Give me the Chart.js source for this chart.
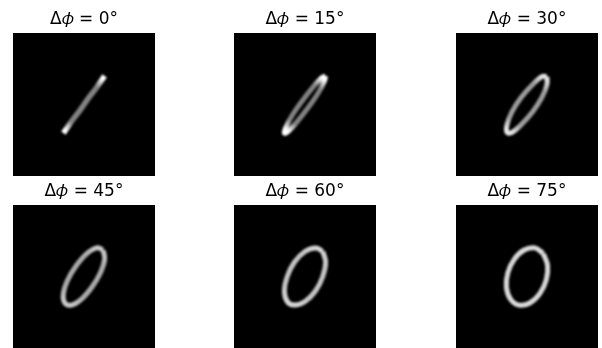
<!DOCTYPE html>
<html>
<head>
<meta charset="utf-8">
<script src="https://cdn.jsdelivr.net/npm/chart.js@4"></script>
<style>
  html, body { margin: 0; padding: 0; background: #fff; overflow: hidden; }
  .panel { position: absolute; width: 151px; height: 176px; }
</style>
</head>
<body>
<script>
const phases = [0, 15, 30, 45, 60, 75];

// curve, centre of the image is 0,0 and its edges are +-1
const x0 = [0.29, 0.22, 0.15, 0.07, 0, -0.07, -0.15, -0.22, -0.29];
const y0 = [0.40, 0.30, 0.20, 0.10, 0, -0.10, -0.20, -0.30, -0.40];

const x15 = [0.29, 0.23, 0.11, -0.04, -0.18, -0.27, -0.29, -0.23, -0.11, 0.04, 0.18, 0.27, 0.29];
const y15 = [0.40, 0.37, 0.24, 0.05, -0.15, -0.32, -0.40, -0.37, -0.24, -0.05, 0.15, 0.32, 0.40];

const x30 = [0.28, 0.21, 0.08, -0.08, -0.21, -0.28, -0.28, -0.21, -0.08, 0.08, 0.21, 0.28, 0.28];
const y30 = [0.39, 0.39, 0.28, 0.10, -0.10, -0.28, -0.39, -0.39, -0.28, -0.10, 0.10, 0.28, 0.39];

const x45 = [0.27, 0.18, 0.04, -0.11, -0.23, -0.29, -0.27, -0.18, -0.04, 0.11, 0.23, 0.29, 0.27];
const y45 = [0.37, 0.40, 0.32, 0.15, -0.05, -0.24, -0.37, -0.40, -0.32, -0.15, 0.05, 0.24, 0.37];

const x60 = [0.25, 0.15, 0, -0.15, -0.25, -0.29, -0.25, -0.15, 0, 0.15, 0.25, 0.29, 0.25];
const y60 = [0.35, 0.40, 0.35, 0.20, 0, -0.20, -0.35, -0.40, -0.35, -0.20, 0, 0.20, 0.35];

const x75 = [0.23, 0.11, -0.04, -0.18, -0.27, -0.29, -0.23, -0.11, 0.04, 0.18, 0.27, 0.29, 0.23];
const y75 = [0.32, 0.40, 0.37, 0.24, 0.05, -0.15, -0.32, -0.40, -0.37, -0.24, -0.05, 0.15, 0.32];

const curvesX = [x0, x15, x30, x45, x60, x75];
const curvesY = [y0, y15, y30, y45, y60, y75];

// brightness of the curve: along its middle, and at the far ends
const midGray = [130, 130, 155, 170, 195, 215];
const tipGray = [255, 255, 230, 200, 215, 220];

const panelLeft = [9, 230, 452];
const panelTop = [0, 172];

const imageLook = {
  id: "imageLook",
  beforeDraw(chart) {
    const a = chart.chartArea;
    chart.ctx.fillStyle = "#000";
    chart.ctx.fillRect(a.left, a.top, a.right - a.left, a.bottom - a.top);
  },
  beforeDatasetsDraw(chart) {
    chart.ctx.save();
    chart.ctx.filter = "blur(1.1px)";
  },
  afterDatasetsDraw(chart) {
    chart.ctx.restore();
  },
};

function curveColor(chart, i) {
  const a = chart.chartArea;
  if (!a) return "#999";
  const cx = (a.left + a.right) / 2;
  const cy = (a.top + a.bottom) / 2;
  const g = chart.ctx.createRadialGradient(cx, cy, 0, cx, cy, 36);
  const mid = `rgb(${midGray[i]},${midGray[i]},${midGray[i]})`;
  const tip = `rgb(${tipGray[i]},${tipGray[i]},${tipGray[i]})`;
  g.addColorStop(0, mid);
  g.addColorStop(0.6, mid);
  g.addColorStop(0.88, tip);
  g.addColorStop(1, tip);
  return g;
}

phases.forEach((phase, i) => {
  const canvas = document.createElement("canvas");
  canvas.width = 150;
  canvas.height = 176;
  const wrap = document.createElement("div");
  wrap.className = "panel";
  wrap.style.left = panelLeft[i % 3] + "px";
  wrap.style.top = panelTop[Math.floor(i / 3)] + "px";
  wrap.appendChild(canvas);
  document.body.appendChild(wrap);

  new Chart(canvas, {
    type: "scatter",
    data: {
      datasets: [
        {
          data: curvesX[i].map((x, k) => ({ x: x, y: curvesY[i][k] })),
          showLine: true,
          borderWidth: i === 0 ? 5.5 : 5,
          pointRadius: 0,
          tension: 0.4,
          borderCapStyle: "butt",
          borderColor: (ctx) => curveColor(ctx.chart, i),
        },
      ],
    },
    plugins: [imageLook],
    options: {
      responsive: false,
      animation: false,
      layout: { autoPadding: false, padding: { left: 4, right: 4, top: 0, bottom: 0 } },
      plugins: {
        legend: { display: false },
        tooltip: { enabled: false },
        title: {
          display: true,
          text: "Δ𝜙 = " + phase + "°",
          color: "#000",
          font: { family: "'DejaVu Sans'", size: 17, weight: "normal" },
          padding: { top: 9, bottom: 3.6 },
        },
      },
      scales: {
        x: { display: false, min: -1, max: 1 },
        y: { display: false, min: -1, max: 1 },
      },
    },
  });
});
</script>
</body>
</html>
